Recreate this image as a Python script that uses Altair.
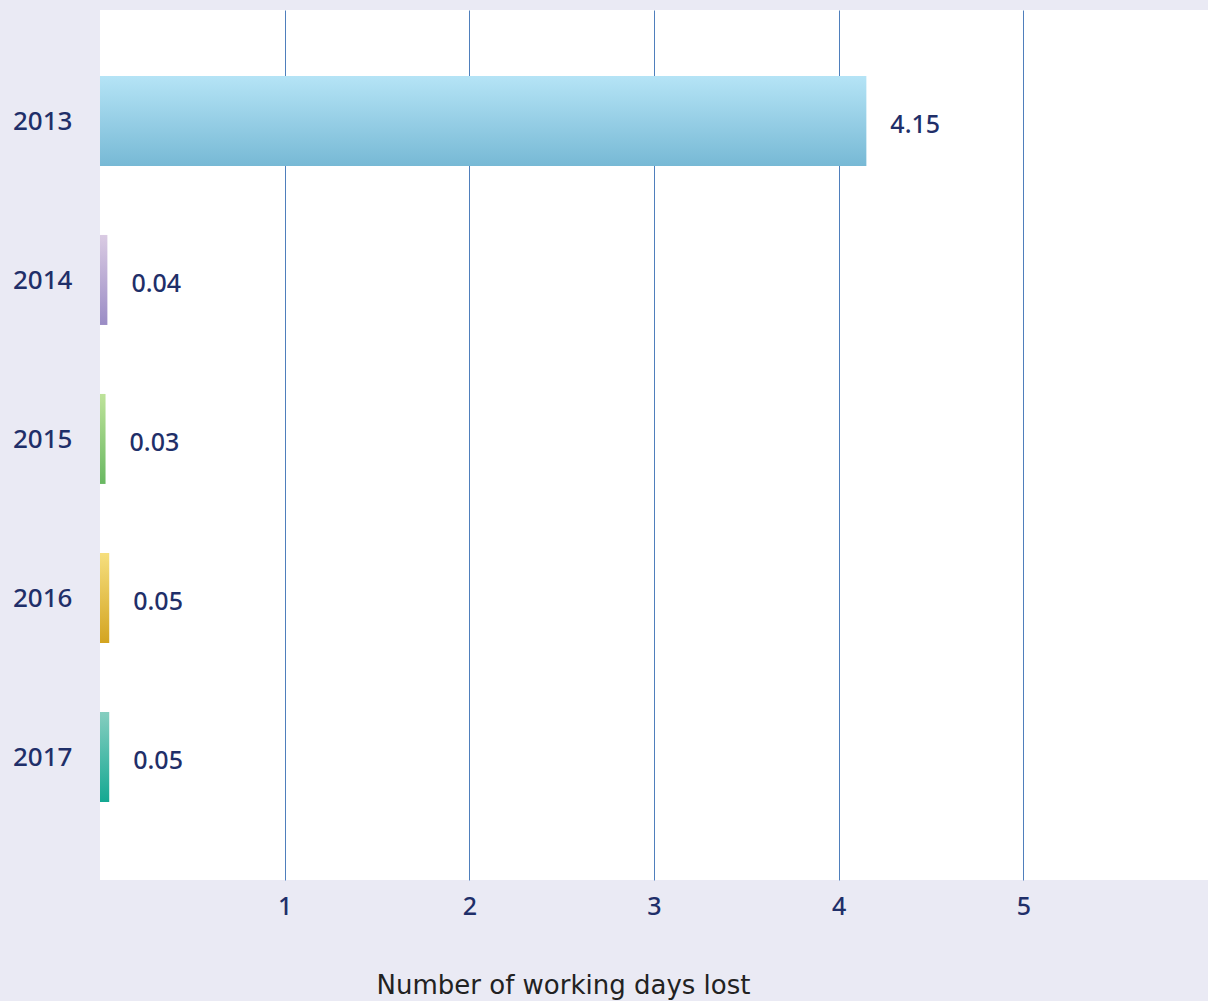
import altair as alt
import pandas as pd

# Days lost per year
years = ["2013", "2014", "2015", "2016", "2017"]
days_lost = [4.15, 0.04, 0.03, 0.05, 0.05]
labels = ["4.15", "0.04", "0.03", "0.05", "0.05"]

# Vertical gradient (top colour, bottom colour) for each year's bar
bar_gradients = {
    "2013": ("#B5E4F6", "#77B9D5"),
    "2014": ("#DACBE3", "#9A8CC5"),
    "2015": ("#BEE39A", "#69B862"),
    "2016": ("#F6DF7E", "#D3A420"),
    "2017": ("#86CEC0", "#14A892"),
}

df = pd.DataFrame({"year": years, "days": days_lost, "label": labels})

LABEL_COLOR = "#1F2F69"
GRID_COLOR = "#4F7FBC"
FONT_SIZE = 25

x_scale = alt.Scale(domain=[0, 6], nice=False, zero=True)
y_scale = alt.Scale(domain=years, paddingInner=0.434, paddingOuter=0.453, align=0.458)

x_enc = alt.X(
    "days:Q",
    scale=x_scale,
    axis=alt.Axis(
        values=[1, 2, 3, 4, 5],
        format="d",
        title="Number of working days lost",
        grid=True,
        gridColor=GRID_COLOR,
        gridWidth=1,
        domain=False,
        ticks=False,
        labelFont="Noto Sans",
        labelFontSize=FONT_SIZE,
        labelFontWeight=500,
        labelColor=LABEL_COLOR,
        labelPadding=14,
        titleFont="DejaVu Sans",
        titleFontSize=26,
        titleFontWeight="normal",
        titleColor="#222222",
        titleX=463,
        titleY=113,
        titleAlign="center",
        titleBaseline="alphabetic",
    ),
)
y_enc = alt.Y(
    "year:N",
    scale=y_scale,
    sort=years,
    axis=alt.Axis(
        title=None,
        domain=False,
        ticks=False,
        grid=False,
        labelFont="Noto Sans",
        labelFontSize=26,
        labelFontWeight=500,
        labelColor=LABEL_COLOR,
        labelPadding=28,
        labelOffset=1,
    ),
)

base = alt.Chart(df)

bar_layers = []
for yr in years:
    top, bottom = bar_gradients[yr]
    bar_layers.append(
        base.transform_filter(alt.datum.year == yr)
        .mark_bar(
            color=alt.Gradient(
                gradient="linear",
                stops=[
                    alt.GradientStop(color=top, offset=0),
                    alt.GradientStop(color=bottom, offset=1),
                ],
                x1=0, x2=0, y1=0, y2=1,
            )
        )
        .encode(x=x_enc, y=y_enc)
    )

text_layer = base.mark_text(
    align="left",
    baseline="middle",
    dx=24,
    dy=4,
    font="Noto Sans",
    fontSize=FONT_SIZE,
    fontWeight=500,
    color=LABEL_COLOR,
).encode(x=alt.X("days:Q", scale=x_scale), y=alt.Y("year:N", scale=y_scale, sort=years), text="label:N")

chart = (
    alt.layer(*bar_layers, text_layer)
    .properties(
        width=1108,
        height=870,
        background="#EAEAF4",
        padding={"left": 100, "top": 10, "right": 0, "bottom": 121},
        autosize=alt.AutoSizeParams(type="none"),
    )
    .configure_view(fill="white", stroke=None)
)

chart.save("out.html", embed_options={"renderer": "svg", "actions": False})
